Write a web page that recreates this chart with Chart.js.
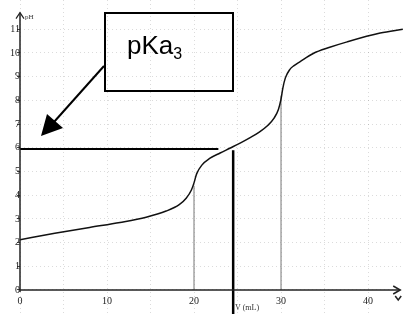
<!DOCTYPE html>
<html>
<head>
<meta charset="utf-8">
<script src="https://cdn.jsdelivr.net/npm/chart.js@4/dist/chart.umd.min.js"></script>
<style>
html,body{margin:0;padding:0;background:#fff;}
canvas{display:block;}
</style>
</head>
<body>
<canvas id="c" width="403" height="314"></canvas>
<script>
// ---- data ----
const volume = [0, 4, 8, 11.5, 14.5, 16.8, 18.3, 19.1, 19.7, 20, 20.3, 20.9, 21.8, 23, 24.1, 25.3, 26.4, 27.5, 28.5, 29.2, 29.7, 30, 30.2, 30.5, 31, 31.5, 32.2, 33.7, 35.6, 37.6, 41.4, 44];
const pHvalues = [2.12, 2.39, 2.64, 2.85, 3.07, 3.33, 3.6, 3.87, 4.22, 4.52, 4.9, 5.27, 5.55, 5.78, 5.98, 6.2, 6.42, 6.66, 6.95, 7.25, 7.62, 8.05, 8.5, 8.95, 9.3, 9.47, 9.64, 9.98, 10.24, 10.47, 10.84, 11.0];
const xTickLabels = [0, 10, 20, 30, 40];
const yTickLabels = [0, 1, 2, 3, 4, 5, 6, 7, 8, 9, 10, 11];
const pKaLevel = 5.95;
const pKaLineEnd = 22.8;
const markerVolume = 24.5;
const equivalenceVolumes = [20, 30];
const equivalencePH = [4.4, 8.2];
const xRange = [0, 44.02];
const yRange = [-1.013, 12.236];

const curve = volume.map((v, i) => ({x: v, y: pHvalues[i]}));

const serif = "'Liberation Serif', 'DejaVu Serif', serif";

const decor = {
  id: 'decor',
  afterDatasetsDraw(chart) {
    const ctx = chart.ctx;
    const xs = chart.scales.x, ys = chart.scales.y;
    const x0 = xs.getPixelForValue(0), y0 = ys.getPixelForValue(0);
    ctx.save();
    ctx.strokeStyle = '#222';
    ctx.lineWidth = 1.5;
    // x axis with arrow
    const xEnd = xs.getPixelForValue(43.7);
    ctx.beginPath();
    ctx.moveTo(x0, y0); ctx.lineTo(xEnd, y0); ctx.stroke();
    ctx.beginPath();
    ctx.moveTo(xEnd - 7, y0 - 4); ctx.lineTo(xEnd, y0); ctx.lineTo(xEnd - 7, y0 + 4); ctx.stroke();
    // small v mark
    ctx.beginPath();
    ctx.moveTo(xEnd - 5, y0 + 6); ctx.lineTo(xEnd - 2, y0 + 10); ctx.lineTo(xEnd + 1, y0 + 6); ctx.stroke();
    // y axis with arrow
    const yTop = ys.getPixelForValue(11.7);
    ctx.beginPath();
    ctx.moveTo(x0, y0 + 2); ctx.lineTo(x0, yTop); ctx.stroke();
    ctx.lineWidth = 1.2;
    ctx.beginPath();
    ctx.moveTo(x0 - 4, yTop + 6); ctx.lineTo(x0, yTop); ctx.lineTo(x0 + 4, yTop + 6); ctx.stroke();
    // axis titles
    ctx.fillStyle = '#333';
    ctx.font = "7px " + serif;
    ctx.textBaseline = 'alphabetic';
    ctx.fillText('pH', x0 + 5, yTop + 6);
    ctx.font = "8px " + serif;
    ctx.fillText('V (mL)', xs.getPixelForValue(24.7), y0 + 20);

    // pKa box
    ctx.strokeStyle = '#000';
    ctx.lineWidth = 2;
    ctx.strokeRect(105, 13, 128, 78);
    ctx.fillStyle = '#000';
    ctx.font = "26px 'Liberation Sans', Arial, sans-serif";
    ctx.fillText('pKa', 127, 54);
    const w = ctx.measureText('pKa').width;
    ctx.font = "16px 'Liberation Sans', Arial, sans-serif";
    ctx.fillText('3', 127 + w, 59);

    // arrow
    ctx.beginPath();
    ctx.moveTo(104, 66); ctx.lineTo(54, 122); ctx.stroke();
    ctx.beginPath();
    ctx.moveTo(41, 136); ctx.lineTo(47, 114); ctx.lineTo(63, 128); ctx.closePath(); ctx.fill();
    ctx.restore();
  }
};

new Chart(document.getElementById('c'), {
  type: 'scatter',
  data: {
    datasets: [
      {
        data: curve, showLine: true, borderColor: '#111', borderWidth: 1.5,
        pointRadius: 0, cubicInterpolationMode: 'monotone', fill: false
      },
      {
        data: [{x: 0, y: pKaLevel}, {x: pKaLineEnd, y: pKaLevel}],
        showLine: true, borderColor: '#000', borderWidth: 2, pointRadius: 0
      },
      {
        data: [{x: markerVolume, y: pKaLevel - 0.05}, {x: markerVolume, y: yRange[0] - 0.2}],
        showLine: true, borderColor: '#000', borderWidth: 2.5, pointRadius: 0
      },
      {
        data: [{x: equivalenceVolumes[0], y: 0}, {x: equivalenceVolumes[0], y: equivalencePH[0]}],
        showLine: true, borderColor: '#777', borderWidth: 1, pointRadius: 0
      },
      {
        data: [{x: equivalenceVolumes[1], y: 0}, {x: equivalenceVolumes[1], y: equivalencePH[1]}],
        showLine: true, borderColor: '#777', borderWidth: 1, pointRadius: 0
      }
    ]
  },
  options: {
    responsive: false,
    animation: false,
    devicePixelRatio: 1,
    layout: {padding: {left: 20, right: 0, top: 0, bottom: 0}},
    plugins: {legend: {display: false}, tooltip: {enabled: false}},
    scales: {
      x: {
        type: 'linear', min: xRange[0], max: xRange[1], position: {y: 0},
        afterFit(s) { s.paddingLeft = 0; s.paddingRight = 0; s.paddingTop = 0; s.paddingBottom = 0; },
        ticks: {
          stepSize: 5, includeBounds: false, autoSkip: false, maxRotation: 0, padding: 2,
          color: '#222', font: {family: serif, size: 10},
          callback: v => xTickLabels.includes(v) ? String(v) : ''
        },
        grid: {color: 'rgba(0,0,0,0.14)', tickColor: 'rgba(0,0,0,0)', tickLength: 3, lineWidth: 1},
        border: {display: false, dash: [1, 3]}
      },
      y: {
        type: 'linear', min: yRange[0], max: yRange[1], position: {x: 0},
        afterFit(s) { s.paddingLeft = 0; s.paddingRight = 0; s.paddingTop = 0; s.paddingBottom = 0; },
        ticks: {
          stepSize: 1, includeBounds: false, autoSkip: false, padding: 1,
          color: '#222', font: {family: serif, size: 10},
          callback: v => yTickLabels.includes(v) ? String(v) : null
        },
        grid: {color: 'rgba(0,0,0,0.14)', tickColor: '#444', tickLength: 3, lineWidth: 1},
        border: {display: false, dash: [1, 3]}
      }
    }
  },
  plugins: [decor]
});
</script>
</body>
</html>
